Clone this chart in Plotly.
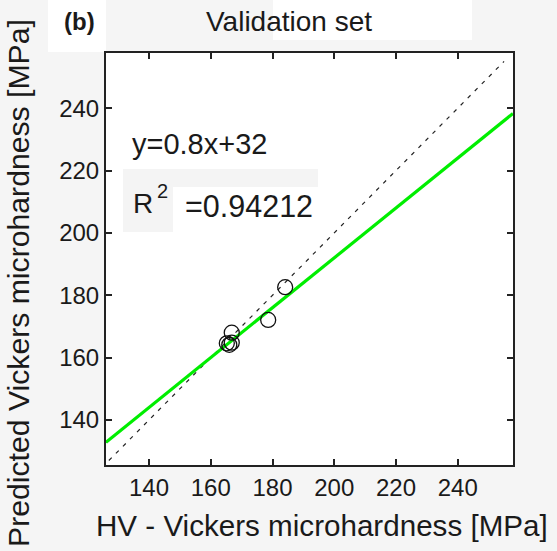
import plotly.graph_objects as go

# ---- data ----
hv_measured = [184.1, 178.6, 166.8, 165.2, 166.8, 166.0]
hv_predicted = [182.6, 172.1, 168.0, 164.6, 164.8, 164.1]
fit_slope = 0.8
fit_intercept = 32
r_squared = "0.94212"
identity_ends = [127, 255]
x_range = [126.07, 257.9]
y_range = [125.56, 257.7]
tick_values = [140, 160, 180, 200, 220, 240]

FONT = "Arial, Liberation Sans, sans-serif"
TXT = "#1a1a1a"
L, T, W, H = 106, 53, 407, 412

fit_x = x_range
fit_y = [fit_slope * v + fit_intercept for v in fit_x]


def px_rect(x0, y0, x1, y1, color, layer="below"):
    return dict(type="rect", xref="paper", yref="paper",
                x0=(x0 - L) / W, x1=(x1 - L) / W,
                y0=1 - (y1 - T) / H, y1=1 - (y0 - T) / H,
                fillcolor=color, line=dict(width=0), layer=layer)


def px_x(x):
    return (x - L) / W


def px_y(y):
    return 1 - (y - T) / H


def note(text, x, y, size, xanchor="left", angle=0):
    return dict(text=text, xref="paper", yref="paper", x=px_x(x), y=px_y(y),
                xanchor=xanchor, yanchor="middle", showarrow=False,
                textangle=angle, font=dict(size=size, color=TXT))


fig = go.Figure()
fig.add_trace(go.Scatter(x=identity_ends, y=identity_ends, mode="lines",
                         line=dict(color="#222222", width=1.2, dash="4px,6px"),
                         showlegend=False, hoverinfo="skip"))
fig.add_trace(go.Scatter(x=fit_x, y=fit_y, mode="lines",
                         line=dict(color="#00ee00", width=3.2),
                         showlegend=False, hoverinfo="skip"))
fig.add_trace(go.Scatter(x=hv_measured, y=hv_predicted, mode="markers",
                         marker=dict(symbol="circle-open", size=15,
                                     color="#111111", line=dict(width=1.3)),
                         showlegend=False))

shapes = [
    dict(type="rect", xref="paper", yref="paper", x0=0, x1=1, y0=0, y1=1,
         fillcolor="white", line=dict(width=0), layer="below"),
    px_rect(48, 0, 106, 52, "white"),
    px_rect(273, 0, 472, 40, "white"),
    px_rect(123, 169, 318, 232, "#f4f4f4", "above"),
    px_rect(173, 187, 318, 232, "white", "above"),
]

axis_common = dict(tickvals=tick_values, ticks="inside", ticklen=6,
                   tickwidth=1.5, tickcolor="#222", mirror="ticks",
                   showline=True, linecolor="#222", linewidth=2,
                   showgrid=False, zeroline=False,
                   tickfont=dict(size=24, color=TXT))

fig.update_layout(
    width=557, height=551,
    margin=dict(l=L, r=557 - L - W, t=T, b=551 - T - H),
    paper_bgcolor="#f5f5f5",
    plot_bgcolor="white",
    font=dict(family=FONT, color=TXT),
    shapes=shapes,
    xaxis=dict(range=x_range, **axis_common),
    yaxis=dict(range=y_range, **axis_common),
    annotations=[
        note("Validation set", 289, 22, 28, "center"),
        note("<b>(b)</b>", 79, 21, 24, "center"),
        note("HV - Vickers microhardness [MPa]", 322, 525, 29.6, "center"),
        note("Predicted Vickers microhardness [MPa]", 18, 283, 30.2,
             "center", -90),
        note(f"y={fit_slope}x+{fit_intercept}", 130, 144, 29),
        note("R", 131, 204, 28),
        note("2", 155, 191, 20),
        note(f"={r_squared}", 183, 206, 30.5),
    ],
)

fig.write_html("out.html", config={"displayModeBar": False},
               post_script="document.body.style.margin='0';document.body.style.padding='0';")
